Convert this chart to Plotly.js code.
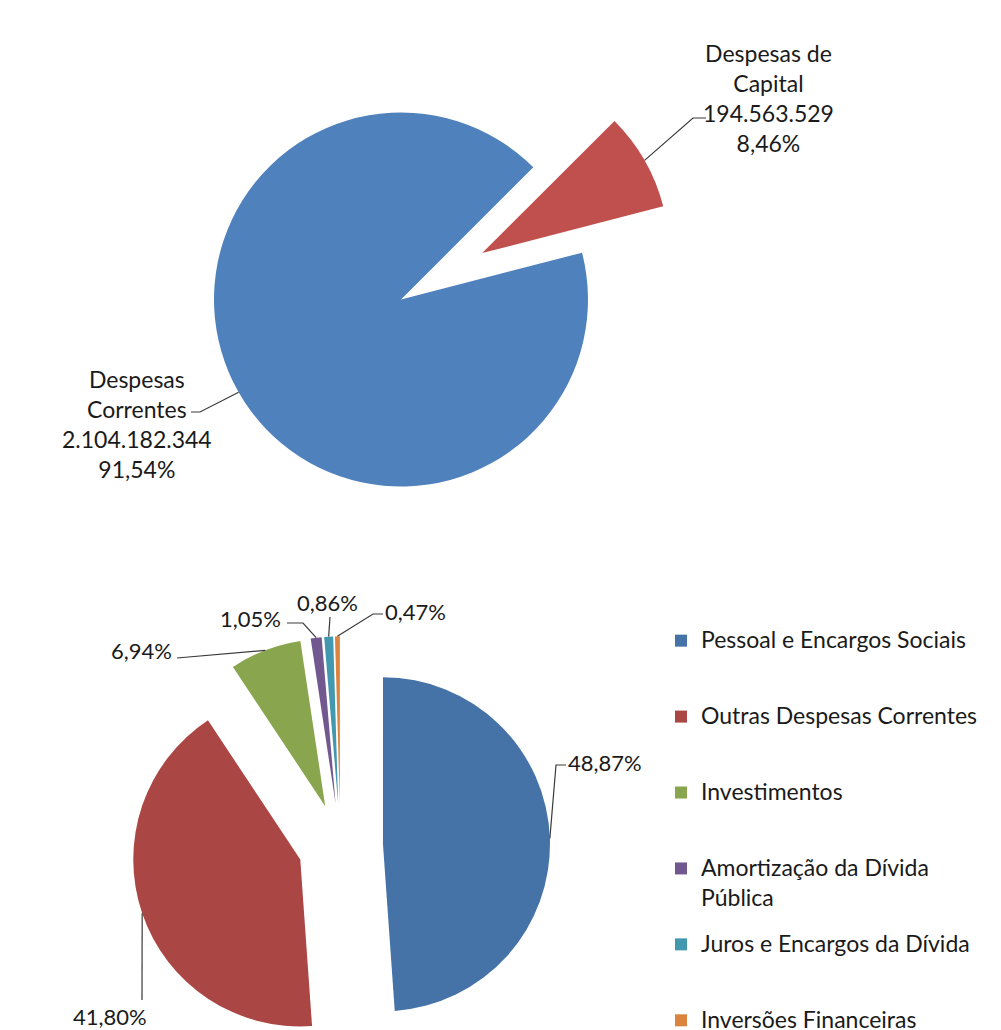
<!DOCTYPE html>
<html>
<head>
<meta charset="utf-8">
<script src="https://cdn.plot.ly/plotly-3.0.1.min.js"></script>
<style>
  html, body { margin: 0; padding: 0; background: #fff; overflow: hidden; }
  #wrap { width: 1001px; height: 1030px; overflow: hidden; }
</style>
</head>
<body>
<div id="wrap"><div id="graph" style="width:1001px;height:1100px"></div></div>
<script>
// top pie: despesas por categoria economica
var grupos = ['Despesas Correntes', 'Despesas de Capital'];
var valoresGrupo = [2104182344, 194563529];
var valoresTxt = ['2.104.182.344', '194.563.529'];
var pctGrupo = ['91,54%', '8,46%'];

// bottom pie: despesas por grupo de natureza (%)
var naturezas = ['Pessoal e Encargos Sociais', 'Outras Despesas Correntes', 'Investimentos',
                 'Amortização da Dívida<br>Pública', 'Juros e Encargos da Dívida', 'Inversões Financeiras'];
var pctNatureza = [48.87, 41.80, 6.94, 1.05, 0.86, 0.47];

var coresTopo = ['#4F81BD', '#C0504D'];
var coresBase = ['#4572A7', '#AA4643', '#89A54E', '#71588F', '#4198AF', '#DB843D'];

var pullTopo = [0, 0.5];
var pullBase = [0.2545, 0.2545, 0.2545, 0.2545, 0.2545, 0.2545];
var rotTopo = 75.5, rotBase = 0;

// page is 1001 wide, plot is drawn 1100 tall and clipped at 1030
var W = 1001, H = 1100;
function X(px) { return px / W; }
function Y(py) { return 1 - py / H; }

// where each pie sits (pixel centre + square box side)
var boxTopo = {cx: 401, cy: 299.5, side: 561};
var boxBase = {cx: 340.5, cy: 845.8, side: 419};

function dominio(b) {
  return {
    x: [X(b.cx - b.side / 2), X(b.cx + b.side / 2)],
    y: [Y(b.cy + b.side / 2), Y(b.cy - b.side / 2)]
  };
}

// outer middle point of every slice, same maths as plotly uses for the pie
function pontas(vals, rot, pulls, box) {
  var maxPull = Math.max.apply(null, pulls);
  var r = box.side / (2 + 2 * maxPull);
  var tot = vals.reduce(function(a, b) { return a + b; }, 0);
  var ang = rot, out = [];
  for (var i = 0; i < vals.length; i++) {
    var mid = ang + 180 * vals[i] / tot;
    ang += 360 * vals[i] / tot;
    var a = mid * Math.PI / 180;
    var k = r * (1 + pulls[i]);
    out.push([box.cx + k * Math.sin(a), box.cy - k * Math.cos(a)]);
  }
  return out;
}

function fmtPct(v) { return v.toFixed(2).replace('.', ',') + '%'; }

var fonte = 'Lato, "Open Sans", sans-serif';
var corTexto = '#1a1a1a';

var pieTopo = {
  type: 'pie',
  labels: grupos,
  values: valoresGrupo,
  sort: false,
  direction: 'clockwise',
  rotation: rotTopo,
  pull: pullTopo,
  marker: {colors: coresTopo, line: {width: 0}},
  textinfo: 'none',
  hoverinfo: 'label+value+percent',
  showlegend: false,
  domain: dominio(boxTopo)
};

// legend text padded to 3 lines so the entries spread out like the original
// (second line of a wrapped name is nudged down a bit, excel puts more air there)
var nomesLegenda = naturezas.map(function(n) {
  var linhas = n.split('<br>');
  var txt = linhas.map(function(l, k) {
    var st = 'font-size:23px' + (k > 0 ? ';baseline-shift:-6px' : '');
    return '<span style="' + st + '">' + l + '</span>';
  }).join('<br>');
  for (var i = linhas.length; i < 3; i++) txt += '<br> ';
  return txt;
});

var pieBase = {
  type: 'pie',
  labels: nomesLegenda,
  values: pctNatureza,
  sort: false,
  direction: 'clockwise',
  rotation: rotBase,
  pull: pullBase,
  marker: {colors: coresBase, line: {width: 0}},
  textinfo: 'none',
  hoverinfo: 'percent',
  showlegend: true,
  domain: dominio(boxBase)
};

// label boxes and leader line bends (pixels)
var rotTopoLab = [
  {tx: 137, ty: 424, bend: [[200, 412], [191, 412]]},
  {tx: 768, ty: 98,  bend: [[693, 118], [706, 118]]}
];
var rotBaseLab = [
  {tx: 605, ty: 762,  bend: [[556, 765], [566, 765]]},
  {tx: 110, ty: 1016, bend: [[142, 1000]]},
  {tx: 141, ty: 650,  bend: [[177, 658]]},
  {tx: 250, ty: 618,  bend: [[303, 623], [287, 623]]},
  {tx: 327, ty: 602,  bend: [[330, 617]]},
  {tx: 415, ty: 611,  bend: [[373, 614], [383, 614]]}
];

var anots = [], formas = [];
function rotular(pts, labs, textos, tam) {
  for (var i = 0; i < pts.length; i++) {
    var p = 'M' + X(pts[i][0]) + ',' + Y(pts[i][1]);
    labs[i].bend.forEach(function(b) { p += ' L' + X(b[0]) + ',' + Y(b[1]); });
    formas.push({type: 'path', xref: 'paper', yref: 'paper', path: p,
                 line: {color: '#3a3a3a', width: 1.2}});
    anots.push({xref: 'paper', yref: 'paper', x: X(labs[i].tx), y: Y(labs[i].ty),
                xanchor: 'center', yanchor: 'middle', showarrow: false,
                text: textos[i], align: 'center',
                font: {family: fonte, size: tam, color: corTexto}});
  }
}

rotular(pontas(valoresGrupo, rotTopo, pullTopo, boxTopo), rotTopoLab,
  grupos.map(function(g, i) {
    var nome = i === 0 ? 'Despesas<br>Correntes' : 'Despesas de<br>Capital';
    return nome + '<br>' + valoresTxt[i] + '<br>' + pctGrupo[i];
  }), 23);
rotular(pontas(pctNatureza, rotBase, pullBase, boxBase), rotBaseLab, pctNatureza.map(fmtPct), 22);

var layout = {
  width: W,
  height: H,
  margin: {l: 0, r: 0, t: 0, b: 0},
  paper_bgcolor: 'white',
  plot_bgcolor: 'white',
  font: {family: fonte, color: corTexto},
  showlegend: true,
  legend: {
    x: X(661), xanchor: 'left',
    y: Y(622), yanchor: 'top',
    valign: 'top',
    font: {family: fonte, size: 18.7, color: corTexto},
    bgcolor: 'rgba(0,0,0,0)'
  },
  annotations: anots,
  shapes: formas
};

Plotly.newPlot('graph', [pieTopo, pieBase], layout, {displayModeBar: false, staticPlot: true});
</script>
</body>
</html>
